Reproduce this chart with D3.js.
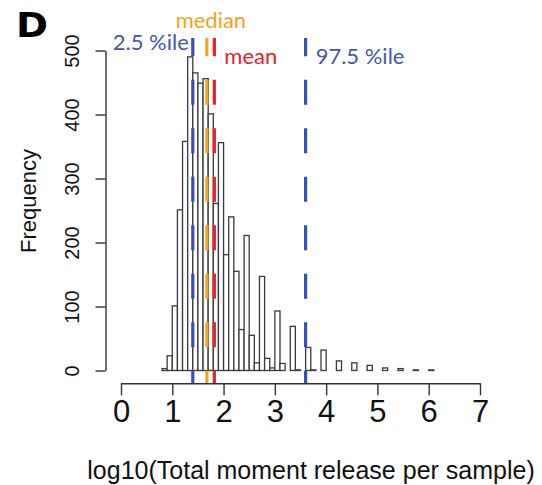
<!DOCTYPE html>
<html>
<head>
<meta charset="utf-8">
<script src="https://cdn.jsdelivr.net/npm/d3@7"></script>
<style>
  html, body { margin: 0; padding: 0; background: #fff; }
  svg { display: block; }
</style>
</head>
<body>
<svg id="chart" width="542" height="485"></svg>
<script>
// Histogram of log10(total moment release per sample), bin width 0.1 over [0, 7)
const binLower = [0.8, 0.9, 1.0, 1.1, 1.2, 1.3, 1.4, 1.5, 1.6, 1.7, 1.8, 1.9,
                  2.0, 2.1, 2.2, 2.3, 2.4, 2.5, 2.6, 2.7, 2.8, 2.9,
                  3.0, 3.1, 3.3, 3.4, 3.6, 3.7, 3.9,
                  4.2, 4.5, 4.8, 5.1, 5.4, 5.7, 6.0];
const counts   = [3, 23, 101, 251, 358, 490, 465, 449, 456, 401, 261, 356,
                  181, 240, 155, 64, 211, 55, 12, 147, 19, 4,
                  93, 11, 69, 1, 36, 1, 32,
                  15, 12, 8, 4, 3, 1, 1];
const binWidth = 0.1;
const xMin = 0, xMax = 7;

// Summary statistics marked with dashed vertical lines
const markerNames  = ["2.5 %ile", "median", "mean", "97.5 %ile"];
const markerValues = [1.40, 1.675, 1.82, 3.60];
const markerColors = ["#3650b4", "#f6a221", "#e8202a", "#3650b4"];
const markerText   = ["#4656ad", "#f6a221", "#e8202a", "#4656ad"];

const xTicks = [0, 1, 2, 3, 4, 5, 6, 7];
const yTicks = [0, 100, 200, 300, 400, 500];

const svg = d3.select("#chart");

const x = d3.scaleLinear().domain([xMin, xMax]).range([121, 480]);
const y = d3.scaleLinear().domain([0, 500]).range([370.5, 50.5]);

// plot region (R style: 4% padding of the y range)
const regionBottom = y(-20), regionTop = y(520);

// every bin from 0 to 7, empty ones included (they form the base line)
const nBins = Math.round((xMax - xMin) / binWidth);
const bins = d3.range(nBins).map(i => {
  const lo = +(xMin + i * binWidth).toFixed(1);
  const k = binLower.findIndex(v => Math.abs(v - lo) < 1e-9);
  return { lo, hi: lo + binWidth, n: k >= 0 ? counts[k] : 0 };
});

svg.append("g")
  .selectAll("rect")
  .data(bins)
  .join("rect")
  .attr("x", d => x(d.lo))
  .attr("width", d => x(d.hi) - x(d.lo))
  .attr("y", d => y(d.n))
  .attr("height", d => y(0) - y(d.n))
  .attr("fill", "#fff")
  .attr("stroke", "#3a3a3a")
  .attr("stroke-width", 1.3);

// dashed marker lines
svg.append("defs").append("clipPath").attr("id", "plotclip")
  .append("rect")
  .attr("x", 0).attr("width", 542)
  .attr("y", regionTop).attr("height", regionBottom - regionTop);

svg.append("g").attr("clip-path", "url(#plotclip)")
  .selectAll("line")
  .data(markerValues)
  .join("line")
  .attr("x1", d => x(d)).attr("x2", d => x(d))
  .attr("y1", regionBottom).attr("y2", regionTop)
  .attr("stroke", (d, i) => markerColors[i])
  .attr("stroke-width", 3.2)
  .attr("stroke-dasharray", "25,23.5")
  .attr("stroke-dashoffset", 12.5);

// marker labels
const labelFont = "Lato, 'Open Sans', sans-serif";
const labelPos = [
  { dx: -4, y: 50, anchor: "end" },
  { dx: 4, y: 28, anchor: "middle" },
  { dx: 10, y: 64, anchor: "start" },
  { dx: 10, y: 64, anchor: "start" }
];
svg.append("g")
  .selectAll("text")
  .data(markerNames)
  .join("text")
  .attr("x", (d, i) => x(markerValues[i]) + labelPos[i].dx)
  .attr("y", (d, i) => labelPos[i].y)
  .attr("text-anchor", (d, i) => labelPos[i].anchor)
  .attr("fill", (d, i) => markerText[i])
  .style("font-family", labelFont)
  .style("font-size", "22px")
  .text(d => d);

// x axis
const axisFont = "'Liberation Sans', Arial, Helvetica, sans-serif";
const xAxis = svg.append("g")
  .attr("transform", `translate(0,${regionBottom})`)
  .call(d3.axisBottom(x).tickValues(xTicks).tickFormat(d3.format("d"))
        .tickSize(12).tickSizeOuter(0).tickPadding(5));
xAxis.select(".domain").attr("stroke", "#333").attr("stroke-width", 1.4);
xAxis.selectAll(".tick line").attr("stroke", "#333").attr("stroke-width", 1.4);
xAxis.selectAll(".tick text")
  .attr("fill", "#111")
  .style("font-family", axisFont)
  .style("font-size", "31px");

// y axis (labels parallel to axis)
const yAxis = svg.append("g")
  .attr("transform", "translate(105.5,0)")
  .call(d3.axisLeft(y).tickValues(yTicks).tickSize(10).tickSizeOuter(0));
yAxis.select(".domain").attr("stroke", "#333").attr("stroke-width", 1.4);
yAxis.selectAll(".tick line").attr("stroke", "#333").attr("stroke-width", 1.4);
yAxis.selectAll(".tick text")
  .attr("x", null).attr("dy", null)
  .attr("transform", "translate(-27,0) rotate(-90)")
  .attr("text-anchor", "middle")
  .attr("fill", "#111")
  .style("font-family", axisFont)
  .style("font-size", "20px");

// axis titles
svg.append("text")
  .attr("x", 311).attr("y", 479)
  .attr("text-anchor", "middle")
  .attr("fill", "#111")
  .style("font-family", axisFont)
  .style("font-size", "25px")
  .text("log10(Total moment release per sample)");

svg.append("text")
  .attr("transform", "translate(36,201) rotate(-90)")
  .attr("text-anchor", "middle")
  .attr("fill", "#111")
  .style("font-family", axisFont)
  .style("font-size", "22px")
  .text("Frequency");

// panel letter
svg.append("text")
  .attr("x", 16).attr("y", 37)
  .attr("textLength", 32).attr("lengthAdjust", "spacingAndGlyphs")
  .attr("fill", "#000")
  .style("font-family", "'DejaVu Sans', Arial, sans-serif")
  .style("font-weight", "bold")
  .style("font-size", "33px")
  .text("D");
</script>
</body>
</html>
